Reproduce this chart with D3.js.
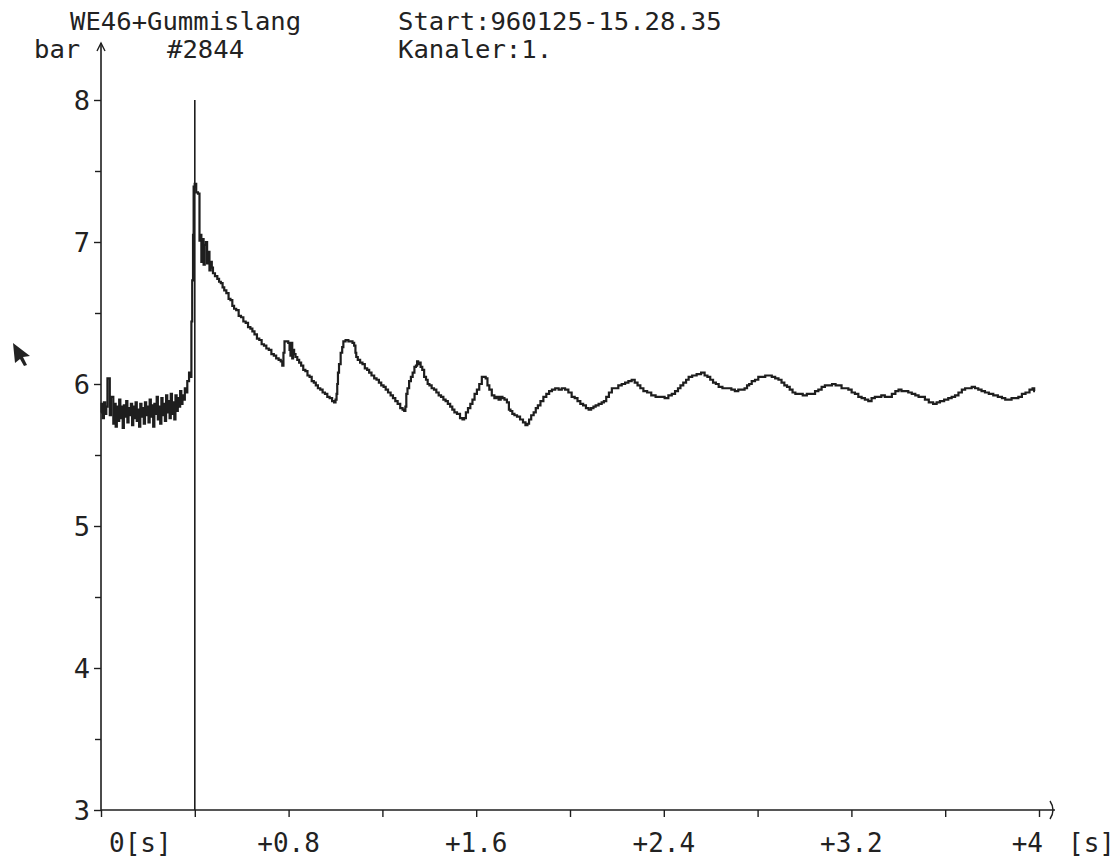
<!DOCTYPE html>
<html>
<head>
<meta charset="utf-8">
<script src="https://cdn.jsdelivr.net/npm/d3@7"></script>
<style>
  body { margin: 0; background: #fff; }
  svg { display: block; background: #fff; }
  text { font-family: "DejaVu Sans Mono", monospace; fill: #222; }
</style>
</head>
<body>
<svg id="chart" width="1116" height="861"></svg>
<script>
// Header lines of the recorder print-out
const headerLeft = ["WE46+Gummislang", "#2844"];
const headerRight = ["Start:960125-15.28.35", "Kanaler:1."];
const yUnit = "bar";
const xUnit = "[s]";

// Axis ticks and labels
const yTicks = [3, 4, 5, 6, 7, 8];
const yMinorTicks = [3.5, 4.5, 5.5, 6.5, 7.5];
const xTicks = [0, 0.4, 0.8, 1.2, 1.6, 2.0, 2.4, 2.8, 3.2, 3.6, 4.0];
const xLabelValues = [0, 0.8, 1.6, 2.4, 3.2, 4];
const xLabels = ["0[s]", "+0.8", "+1.6", "+2.4", "+3.2", "+4"];
const triggerTime = 0.4;

// Channel 1 before the trigger: time (s) and pressure (bar)
const preTime = [
  0.000, 0.005, 0.010, 0.015, 0.020, 0.025, 0.030, 0.035, 0.040, 0.045,
  0.050, 0.055, 0.060, 0.065, 0.070, 0.075, 0.080, 0.085, 0.090, 0.095,
  0.100, 0.105, 0.110, 0.115, 0.120, 0.125, 0.130, 0.135, 0.140, 0.145,
  0.150, 0.155, 0.160, 0.165, 0.170, 0.175, 0.180, 0.185, 0.190, 0.195,
  0.200, 0.205, 0.210, 0.215, 0.220, 0.225, 0.230, 0.235, 0.240, 0.245,
  0.250, 0.255, 0.260, 0.265, 0.270, 0.275, 0.280, 0.285, 0.290, 0.295,
  0.300, 0.305, 0.310, 0.315, 0.320, 0.325, 0.330, 0.335, 0.340, 0.345,
  0.350, 0.355, 0.360, 0.365
];
const prePressure = [
  5.80, 5.86, 5.76, 5.87, 5.79, 5.84, 6.04, 6.04, 5.78, 5.91,
  5.91, 5.72, 5.86, 5.70, 5.84, 5.74, 5.89, 5.76, 5.84, 5.69,
  5.85, 5.77, 5.88, 5.73, 5.83, 5.78, 5.86, 5.71, 5.84, 5.76,
  5.87, 5.74, 5.82, 5.70, 5.86, 5.77, 5.83, 5.72, 5.87, 5.78,
  5.84, 5.73, 5.89, 5.77, 5.85, 5.70, 5.86, 5.79, 5.91, 5.75,
  5.84, 5.72, 5.90, 5.78, 5.86, 5.74, 5.92, 5.80, 5.88, 5.76,
  5.93, 5.79, 5.87, 5.75, 5.92, 5.81, 5.90, 5.84, 5.95, 5.86,
  5.92, 5.89, 5.97, 5.94
];

// Channel 1 from the pressure surge onward
const postTime = [
  0.371, 0.380, 0.384, 0.387, 0.391, 0.394, 0.396, 0.403, 0.409, 0.418,
  0.422, 0.426, 0.430, 0.435, 0.440, 0.445, 0.450, 0.455, 0.460, 0.465,
  0.470, 0.475, 0.480, 0.492, 0.500, 0.507, 0.515, 0.522, 0.529, 0.540,
  0.548, 0.556, 0.564, 0.571, 0.582, 0.592, 0.602, 0.612, 0.622, 0.632,
  0.642, 0.649, 0.660, 0.670, 0.680, 0.690, 0.700, 0.710, 0.721, 0.732,
  0.742, 0.752, 0.763, 0.770, 0.776, 0.780, 0.785, 0.795, 0.802, 0.806,
  0.810, 0.812, 0.814, 0.817, 0.821, 0.826, 0.833, 0.841, 0.849, 0.858,
  0.867, 0.876, 0.885, 0.894, 0.903, 0.912, 0.920, 0.930, 0.940, 0.950,
  0.960, 0.970, 0.980, 0.991, 0.997, 1.003, 1.006, 1.009, 1.012, 1.018,
  1.026, 1.031, 1.036, 1.050, 1.060, 1.069, 1.076, 1.083, 1.087, 1.090,
  1.100, 1.110, 1.120, 1.130, 1.140, 1.147, 1.160, 1.170, 1.180, 1.190,
  1.200, 1.210, 1.218, 1.230, 1.240, 1.250, 1.260, 1.270, 1.282, 1.290,
  1.296, 1.300, 1.304, 1.310, 1.318, 1.325, 1.333, 1.340, 1.346, 1.350,
  1.355, 1.360, 1.366, 1.374, 1.382, 1.390, 1.396, 1.405, 1.415, 1.425,
  1.435, 1.445, 1.455, 1.465, 1.474, 1.484, 1.494, 1.502, 1.512, 1.524,
  1.538, 1.545, 1.552, 1.560, 1.570, 1.580, 1.588, 1.598, 1.608, 1.618,
  1.630, 1.637, 1.644, 1.652, 1.660, 1.673, 1.682, 1.690, 1.701, 1.708,
  1.716, 1.725, 1.737, 1.742, 1.750, 1.758, 1.768, 1.780, 1.794, 1.805,
  1.815, 1.822, 1.829, 1.840, 1.850, 1.858, 1.868, 1.880, 1.893, 1.905,
  1.917, 1.929, 1.945, 1.958, 1.972, 1.986, 2.000, 2.014, 2.026, 2.038,
  2.050, 2.062, 2.074, 2.085, 2.095, 2.105, 2.114, 2.130, 2.140, 2.149,
  2.160, 2.172, 2.185, 2.199, 2.213, 2.228, 2.242, 2.256, 2.270, 2.282,
  2.294, 2.306, 2.320, 2.338, 2.355, 2.375, 2.395, 2.412, 2.427, 2.441,
  2.455, 2.466, 2.476, 2.490, 2.500, 2.512, 2.530, 2.550, 2.568, 2.580,
  2.592, 2.604, 2.616, 2.628, 2.640, 2.660, 2.680, 2.696, 2.710, 2.725,
  2.739, 2.750, 2.760, 2.768, 2.782, 2.796, 2.810, 2.825, 2.840, 2.853,
  2.868, 2.882, 2.896, 2.908, 2.920, 2.931, 2.943, 2.955, 2.967, 2.985,
  3.000, 3.020, 3.038, 3.052, 3.066, 3.080, 3.094, 3.110, 3.125, 3.140,
  3.151, 3.165, 3.180, 3.194, 3.208, 3.222, 3.237, 3.250, 3.265, 3.279,
  3.293, 3.307, 3.320, 3.335, 3.350, 3.365, 3.380, 3.395, 3.407, 3.420,
  3.435, 3.450, 3.465, 3.480, 3.493, 3.507, 3.520, 3.540, 3.557, 3.570,
  3.585, 3.606, 3.620, 3.635, 3.649, 3.664, 3.678, 3.692, 3.706, 3.720,
  3.734, 3.748, 3.762, 3.777, 3.795, 3.815, 3.834, 3.850, 3.862, 3.876,
  3.890, 3.905, 3.919, 3.935, 3.950, 3.969, 3.976, 3.983
];
const postPressure = [
  6.02, 6.08, 6.05, 6.44, 6.73, 7.05, 7.39, 7.41, 7.35, 7.34,
  7.01, 7.05, 6.86, 7.02, 6.84, 6.98, 7.00, 6.85, 6.93, 6.80,
  6.86, 6.82, 6.78, 6.76, 6.74, 6.72, 6.71, 6.68, 6.66, 6.64,
  6.60, 6.59, 6.55, 6.53, 6.52, 6.48, 6.47, 6.44, 6.43, 6.40,
  6.39, 6.37, 6.35, 6.32, 6.31, 6.28, 6.27, 6.25, 6.24, 6.21,
  6.20, 6.18, 6.17, 6.16, 6.13, 6.22, 6.30, 6.30, 6.29, 6.24,
  6.20, 6.29, 6.29, 6.18, 6.24, 6.21, 6.19, 6.17, 6.15, 6.13,
  6.10, 6.09, 6.06, 6.05, 6.02, 6.01, 5.99, 5.97, 5.96, 5.94,
  5.93, 5.91, 5.90, 5.88, 5.87, 5.89, 5.93, 6.00, 6.08, 6.14,
  6.22, 6.26, 6.30, 6.31, 6.30, 6.30, 6.29, 6.27, 6.22, 6.19,
  6.17, 6.15, 6.14, 6.11, 6.10, 6.08, 6.06, 6.04, 6.03, 6.01,
  5.99, 5.98, 5.96, 5.94, 5.92, 5.90, 5.88, 5.86, 5.83, 5.82,
  5.81, 5.84, 5.93, 5.97, 6.02, 6.05, 6.08, 6.12, 6.13, 6.16,
  6.14, 6.15, 6.12, 6.10, 6.05, 6.03, 6.00, 5.99, 5.97, 5.96,
  5.94, 5.92, 5.91, 5.89, 5.88, 5.86, 5.84, 5.82, 5.80, 5.79,
  5.76, 5.75, 5.76, 5.80, 5.83, 5.86, 5.89, 5.93, 5.96, 6.00,
  6.05, 6.05, 6.04, 5.99, 5.96, 5.92, 5.90, 5.91, 5.89, 5.91,
  5.90, 5.89, 5.87, 5.82, 5.81, 5.79, 5.78, 5.77, 5.75, 5.73,
  5.71, 5.72, 5.75, 5.78, 5.80, 5.83, 5.85, 5.88, 5.91, 5.93,
  5.95, 5.96, 5.97, 5.96, 5.97, 5.96, 5.94, 5.91, 5.90, 5.88,
  5.86, 5.85, 5.83, 5.82, 5.83, 5.84, 5.85, 5.86, 5.87, 5.88,
  5.91, 5.94, 5.97, 5.97, 5.99, 6.00, 6.01, 6.02, 6.03, 6.01,
  5.99, 5.97, 5.95, 5.94, 5.92, 5.91, 5.91, 5.90, 5.92, 5.93,
  5.95, 5.97, 5.99, 6.01, 6.03, 6.05, 6.06, 6.07, 6.08, 6.06,
  6.05, 6.03, 6.01, 6.00, 5.98, 5.97, 5.97, 5.96, 5.95, 5.96,
  5.96, 5.97, 5.99, 6.00, 6.02, 6.03, 6.05, 6.05, 6.06, 6.06,
  6.05, 6.04, 6.03, 6.01, 5.99, 5.98, 5.96, 5.94, 5.93, 5.93,
  5.92, 5.93, 5.93, 5.95, 5.96, 5.98, 5.99, 5.99, 6.00, 5.99,
  5.99, 5.97, 5.97, 5.96, 5.94, 5.93, 5.91, 5.90, 5.89, 5.88,
  5.90, 5.91, 5.91, 5.92, 5.91, 5.91, 5.93, 5.95, 5.96, 5.95,
  5.95, 5.94, 5.93, 5.92, 5.91, 5.91, 5.89, 5.87, 5.86, 5.87,
  5.88, 5.89, 5.90, 5.91, 5.92, 5.94, 5.96, 5.97, 5.97, 5.98,
  5.97, 5.96, 5.95, 5.94, 5.93, 5.92, 5.91, 5.90, 5.89, 5.89,
  5.90, 5.90, 5.91, 5.93, 5.94, 5.96, 5.97, 5.95
];

const svg = d3.select("#chart");
const ink = "#1e1e1e";

const x = d3.scaleLinear().domain([0, 4]).range([101, 1039]);
const y = d3.scaleLinear().domain([3, 8]).range([810, 100]);

// Header text
const hdr = svg.append("g").attr("font-size", 25.6);
hdr.append("text").attr("x", 70).attr("y", 30).text(headerLeft[0]);
hdr.append("text").attr("x", 167).attr("y", 58).text(headerLeft[1]);
hdr.append("text").attr("x", 398).attr("y", 30).text(headerRight[0]);
hdr.append("text").attr("x", 398).attr("y", 58).text(headerRight[1]);
hdr.append("text").attr("x", 34).attr("y", 58).text(yUnit);

// Y axis: ticks from d3, the line itself extended upward to an open arrowhead
const yAxis = d3.axisLeft(y).tickValues(yTicks).tickSize(7).tickPadding(4)
  .tickFormat(d3.format("d"));
const gy = svg.append("g").attr("transform", "translate(101,0)").call(yAxis);
gy.select(".domain").remove();
gy.selectAll(".tick line").attr("stroke", ink).attr("stroke-width", 1.4);
gy.selectAll(".tick text").attr("font-size", 27).attr("font-family", "DejaVu Sans Mono")
  .attr("fill", "#222").attr("dy", "0.36em");

const gyMinor = svg.append("g").attr("transform", "translate(101,0)")
  .call(d3.axisLeft(y).tickValues(yMinorTicks).tickSize(6).tickFormat(""));
gyMinor.select(".domain").remove();
gyMinor.selectAll(".tick line").attr("stroke", ink).attr("stroke-width", 1.4);

const yTop = y(8) - 57;
svg.append("line").attr("x1", 101).attr("x2", 101).attr("y1", y(3)).attr("y2", yTop)
  .attr("stroke", ink).attr("stroke-width", 1.6);
svg.append("path")
  .attr("d", `M97,${yTop + 8} L101,${yTop} L105,${yTop + 8}`)
  .attr("fill", "none").attr("stroke", ink).attr("stroke-width", 1.4);

// X axis: ticks below the line, open arrowhead at the right end
const xAxis = d3.axisBottom(x).tickValues(xTicks).tickSize(7).tickFormat("");
const gx = svg.append("g").attr("transform", `translate(0,${y(3)})`).call(xAxis);
gx.select(".domain").remove();
gx.selectAll(".tick line").attr("stroke", ink).attr("stroke-width", 1.4);

const xEnd = x(4) + 16;
svg.append("line").attr("x1", 101).attr("x2", xEnd).attr("y1", y(3)).attr("y2", y(3))
  .attr("stroke", ink).attr("stroke-width", 1.6);
svg.append("path")
  .attr("d", `M${xEnd - 5},${y(3) - 9} Q${xEnd + 1},${y(3)} ${xEnd - 5},${y(3) + 9}`)
  .attr("fill", "none").attr("stroke", ink).attr("stroke-width", 1.4);

// X tick labels
const xl = svg.append("g").attr("font-size", 26);
xLabelValues.forEach((v, i) => {
  const first = i === 0, last = i === xLabelValues.length - 1;
  xl.append("text")
    .attr("x", first ? x(v) + 8 : last ? x(v) + 4 : x(v))
    .attr("y", 852)
    .attr("text-anchor", first ? "start" : last ? "end" : "middle")
    .text(xLabels[i]);
});
xl.append("text").attr("x", 1068).attr("y", 852).text(xUnit);

// Trigger marker
svg.append("line")
  .attr("x1", x(triggerTime)).attr("x2", x(triggerTime))
  .attr("y1", y(8)).attr("y2", y(3))
  .attr("stroke", ink).attr("stroke-width", 1.6);

// Pressure trace, drawn as the sampled staircase
const time = preTime.concat(postTime);
const pressure = prePressure.concat(postPressure);
const pts = time.map((t, i) => [t, pressure[i]]);
svg.append("path")
  .datum(pts)
  .attr("d", d3.line().curve(d3.curveStep).x(d => x(d[0])).y(d => y(d[1])))
  .attr("fill", "none").attr("stroke", ink).attr("stroke-width", 2.2);

// Mouse pointer left on the screen
svg.append("path")
  .attr("d", "M13,343 L30,356 L23,357 L27,365 L24,366 L20,359 L15,363 Z")
  .attr("fill", "#222");
</script>
</body>
</html>
